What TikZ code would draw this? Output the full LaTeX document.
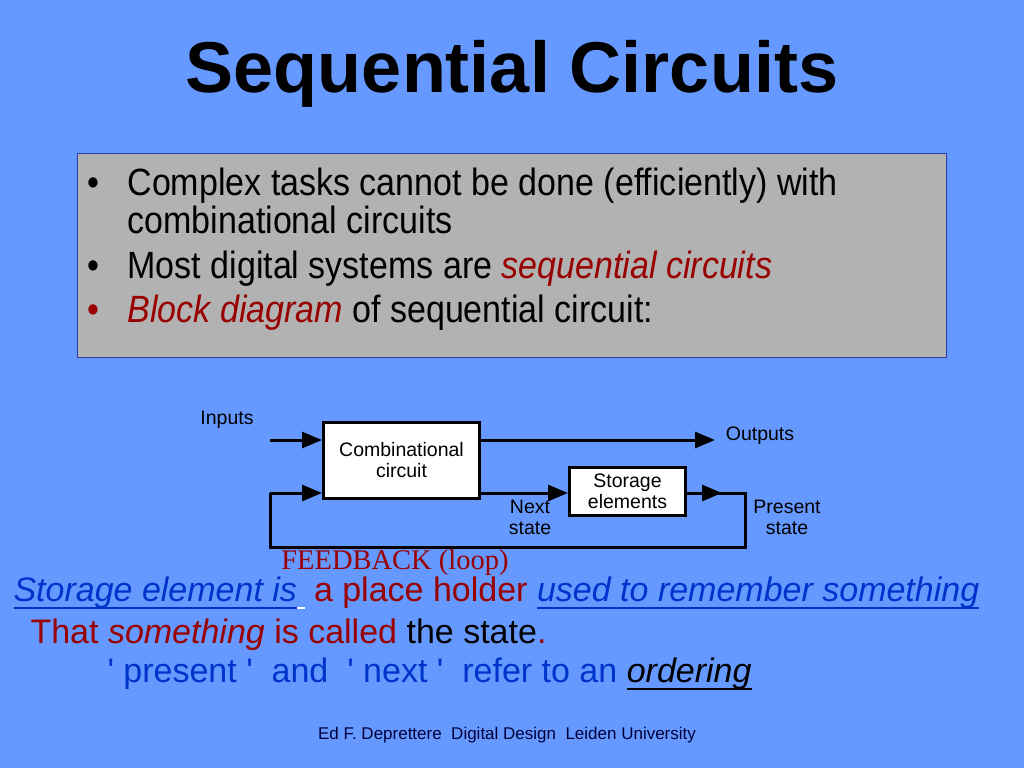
\documentclass[tikz,border=0pt]{standalone}
\usepackage{fontspec}
\setmainfont{Liberation Sans}
\newfontfamily\narrowsans[FakeStretch=0.895]{Liberation Sans}
\newfontfamily\feedfont{Liberation Serif}
\usetikzlibrary{arrows.meta,positioning}
\definecolor{slidebg}{RGB}{102,153,255}
\definecolor{panelgray}{RGB}{178,178,178}
\definecolor{paneledge}{RGB}{40,60,170}
\definecolor{darkred}{RGB}{153,0,0}
\definecolor{textblue}{RGB}{0,51,204}
\definecolor{footblue}{RGB}{0,0,60}
\newcommand\ulthick[1]{\setbox0\hbox{#1}\rlap{\rule[-7.5pt]{\wd0}{2pt}}\box0}

\begin{document}
\begin{tikzpicture}[x=1pt,y=-1pt,
  block/.style={rectangle,draw,fill=white,line width=3pt,align=center,inner sep=0pt,font=\fontsize{19.5}{21}\selectfont},
  lbl/.style={align=center,font=\fontsize{19.5}{21}\selectfont},
  wire/.style={line width=3pt},
  arr/.style={wire,-{Triangle[length=20pt,width=16pt]}},
  item/.style={anchor=base west,font=\fontsize{38}{44}\narrowsans},
  note/.style={anchor=base west,font=\fontsize{34}{40}\selectfont}]

       % slide background
       \fill[slidebg] (0,0) rectangle (1024,768);
       \useasboundingbox (0,0) rectangle (1024,768);

       \node [anchor=base,font=\fontsize{72}{80}\selectfont\bfseries]  (title) at (512,92) {Sequential Circuits};

       \node [draw=paneledge,line width=1pt,fill=panelgray,minimum width=869,minimum height=204]  (panel) at (512,255.5) {};
       \node [item]  (b1) at (84,195) {\textbullet};
       \node [item]  (t1) at (124,195) {Complex tasks cannot be done (efficiently) with};
       \node [item]  (t1b) at (124,233) {combinational circuits};
       \node [item]  (b2) at (84,278) {\textbullet};
       \node [item]  (t2) at (124,278) {Most digital systems are \textcolor{darkred}{\itshape sequential circuits}};
       \node [item,text=darkred]  (b3) at (84,322) {\textbullet};
       \node [item]  (t3) at (124,322) {\textcolor{darkred}{\itshape Block diagram} of sequential circuit:};

       % block diagram
       \node [block,minimum width=156,minimum height=76]  (comb) at (401.5,460.5) {Combinational\\circuit};
       \node [block,minimum width=116,minimum height=48]  (store) at (627.5,491.5) {Storage\\elements};
       \node [lbl]  (inputs) at (227,420) {Inputs};
       \node [lbl]  (outputs) at (760,436) {Outputs};
       \node [lbl]  (next) at (530,517) {Next\\state};
       \node [lbl]  (present) at (787,517) {Present\\state};

       \coordinate (in0) at (270,440);
       \coordinate (out0) at (715,440);
       \coordinate (mid) at (722,493);
       \coordinate (rt) at (745,493);
       \coordinate (br) at (745,547);
       \coordinate (bl) at (270,547);
       \coordinate (fb) at (270,493);

       \draw [arr] (in0) -- (in0 -| comb.west);
       \draw [arr] (comb.east |- out0) -- (out0);
       \draw [arr] (comb.east |- fb) -- (store.west |- fb);
       \draw [wire] (store.east |- rt) -- (rt) -- (br) -- (bl) -- (fb);
       \draw [arr] (store.east |- mid) -- (mid);
       \draw [arr] (fb) -- (fb -| comb.west);

       \node [anchor=base,text=darkred,font=\fontsize{28.5}{32}\selectfont\feedfont]  (feed) at (395,569) {FEEDBACK (loop)};

       % notes below the diagram
       \node [note]  (n1) at (10,601) {\textcolor{textblue}{\itshape\ulthick{Storage element is}}{\color{white}\ulthick{\hphantom{i}}} \textcolor{darkred}{a place holder} \textcolor{textblue}{\itshape\ulthick{used to remember something}}};
       \node [note,text=darkred]  (n2) at (27,643) {That \textit{something} is called \textcolor{black}{the state}.};
       \node [note,text=textblue]  (n3) at (104,682) {\textquotesingle{} present \textquotesingle~ and~ \textquotesingle{} next \textquotesingle~ refer to an \textcolor{black}{\itshape\ulthick{ordering}}};

       \node [anchor=base,text=footblue,font=\fontsize{17}{19}\selectfont]  (foot) at (507,739) {Ed F. Deprettere~ Digital Design~ Leiden University};
\end{tikzpicture}
\end{document}
